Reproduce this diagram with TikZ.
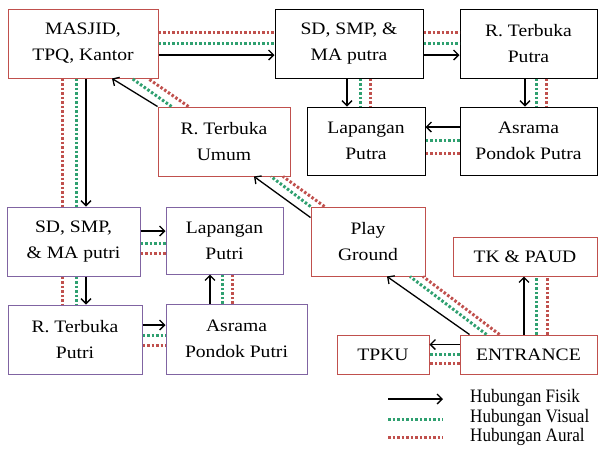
\documentclass[tikz,border=0pt]{standalone}
\usepackage{fontspec}
\setmainfont{Liberation Serif}[FakeStretch=1.12]
\newfontfamily\legendfont{Liberation Serif}[FakeStretch=0.9]
\usepackage{xcolor}
\usetikzlibrary{arrows.meta}

\definecolor{boxred}{HTML}{C0504D}
\definecolor{boxpurple}{HTML}{8064A2}
\definecolor{visualgreen}{HTML}{2FA070}
\definecolor{auralred}{HTML}{C0504D}

\begin{document}
\begin{tikzpicture}[
x=1pt, y=-1pt,
every node/.style={font=\fontsize{17.5}{26}\selectfont},
boxnode/.style={rectangle, draw=black, line width=1pt, align=center, inner sep=0pt},
redbox/.style={boxnode, draw=boxred},
purplebox/.style={boxnode, draw=boxpurple},
blackbox/.style={boxnode, draw=black},
legendtext/.style={font=\legendfont\fontsize{19}{21}\selectfont, anchor=west, inner sep=0pt},
fisik/.style={-{Straight Barb[length=5pt, width=10pt]}, line width=1.3pt, black},
visual/.style={line width=3pt, visualgreen, dash pattern=on 2.5pt off 2pt},
aural/.style={line width=3pt, auralred, dash pattern=on 2.5pt off 2pt}
]
\useasboundingbox (0,0) rectangle (603,451);

% boxes
\node[redbox, minimum width=150pt, minimum height=69pt] (masjid) at (83,43.5) {MASJID,\\TPQ, Kantor};
\node[blackbox, minimum width=148pt, minimum height=69pt] (sdputra) at (349,43.5) {SD, SMP, \&\\MA putra};
\node[blackbox, minimum width=137pt, minimum height=69pt] (rtputra) at (528.5,43.5) {R. Terbuka\\Putra};
\node[blackbox, minimum width=118pt, minimum height=68pt] (lapputra) at (366,141) {Lapangan\\Putra};
\node[blackbox, minimum width=137pt, minimum height=68pt] (asputra) at (528.5,141) {Asrama\\Pondok Putra};
\node[redbox, minimum width=132pt, minimum height=69pt] (rtumum) at (224,141.5) {R. Terbuka\\Umum};
\node[purplebox, minimum width=133pt, minimum height=69pt] (sdputri) at (73.5,241.5) {SD, SMP,\\\& MA putri};
\node[purplebox, minimum width=117pt, minimum height=67pt] (lapputri) at (224.5,240.5) {Lapangan\\Putri};
\node[purplebox, minimum width=134pt, minimum height=69pt] (rtputri) at (75,339.5) {R. Terbuka\\Putri};
\node[purplebox, minimum width=141pt, minimum height=70pt] (asputri) at (236.5,339) {Asrama\\Pondok Putri};
\node[redbox, minimum width=114pt, minimum height=69pt] (play) at (368,241.5) {Play\\Ground};
\node[redbox, minimum width=144pt, minimum height=39pt] (tkpaud) at (525,256.5) {TK \& PAUD};
\node[redbox, minimum width=92pt, minimum height=39pt] (tpku) at (383,354.5) {TPKU};
\node[redbox, minimum width=137pt, minimum height=39pt] (entrance) at (528.5,354.5) {ENTRANCE};

% MASJID - SD putra
\draw[fisik] ([yshift=-11.5pt]masjid.east) -- ([yshift=-11.5pt]masjid.east -| sdputra.west);
\draw[visual] (masjid.east) -- (masjid.east -| sdputra.west);
\draw[aural] ([yshift=11.5pt]masjid.east) -- ([yshift=11.5pt]masjid.east -| sdputra.west);

% SD putra - R. Terbuka Putra
\draw[fisik] ([yshift=-11.5pt]sdputra.east) -- ([yshift=-11.5pt]sdputra.east -| rtputra.west);
\draw[visual] (sdputra.east) -- (sdputra.east -| rtputra.west);
\draw[aural] ([yshift=11.5pt]sdputra.east) -- ([yshift=11.5pt]sdputra.east -| rtputra.west);

% SD putra - Lapangan Putra
\draw[fisik] ([xshift=-2pt]sdputra.south) -- ([xshift=-2pt]sdputra.south |- lapputra.north);
\draw[visual] ([xshift=11pt]sdputra.south) -- ([xshift=11pt]sdputra.south |- lapputra.north);
\draw[aural] ([xshift=21pt]sdputra.south) -- ([xshift=21pt]sdputra.south |- lapputra.north);

% R. Terbuka Putra - Asrama Putra
\draw[fisik] ([xshift=-3.5pt]rtputra.south) -- ([xshift=-3.5pt]asputra.north);
\draw[visual] ([xshift=7.5pt]rtputra.south) -- ([xshift=7.5pt]asputra.north);
\draw[aural] ([xshift=17.5pt]rtputra.south) -- ([xshift=17.5pt]asputra.north);

% Asrama Putra - Lapangan Putra
\draw[fisik] ([yshift=14pt]asputra.west) -- ([yshift=14pt]lapputra.east);
\draw[visual] ([yshift=1pt]asputra.west) -- ([yshift=1pt]lapputra.east);
\draw[aural] ([yshift=-12pt]asputra.west) -- ([yshift=-12pt]lapputra.east);

% MASJID - SD putri
\draw[fisik] ([xshift=3pt]masjid.south) -- ([xshift=3pt]masjid.south |- sdputri.north);
\draw[visual] ([xshift=-7pt]masjid.south) -- ([xshift=-7pt]masjid.south |- sdputri.north);
\draw[aural] ([xshift=-21pt]masjid.south) -- ([xshift=-21pt]masjid.south |- sdputri.north);

% R. Terbuka Umum - MASJID
\draw[fisik] (rtumum.north west) -- ([xshift=29pt]masjid.south);
\draw[visual] ([xshift=14pt]rtumum.north west) -- ([xshift=49pt]masjid.south);
\draw[aural] ([xshift=31pt]rtumum.north west) -- ([xshift=65pt]masjid.south);

% Play Ground - R. Terbuka Umum
\draw[fisik] ([yshift=-11pt]play.north west) -- ([xshift=30pt]rtumum.south);
\draw[visual] (play.north west) -- ([xshift=47pt]rtumum.south);
\draw[aural] ([xshift=14pt]play.north west) -- ([xshift=59pt]rtumum.south);

% ENTRANCE - Play Ground
\draw[fisik] ([xshift=10pt]entrance.north west) -- ([xshift=19pt]play.south);
\draw[visual] ([xshift=27pt]entrance.north west) -- ([xshift=42pt]play.south);
\draw[aural] ([xshift=40pt]entrance.north west) -- ([xshift=55pt]play.south);

% ENTRANCE - TK & PAUD
\draw[fisik] ([xshift=-4.5pt]entrance.north) -- ([xshift=-4.5pt]entrance.north |- tkpaud.south);
\draw[visual] ([xshift=7.5pt]entrance.north) -- ([xshift=7.5pt]entrance.north |- tkpaud.south);
\draw[aural] ([xshift=18.5pt]entrance.north) -- ([xshift=18.5pt]entrance.north |- tkpaud.south);

% ENTRANCE - TPKU
\draw[fisik] ([yshift=10pt]entrance.west) -- ([yshift=10pt]tpku.east);
\draw[visual] (entrance.west) -- (tpku.east);
\draw[aural] ([yshift=-9pt]entrance.west) -- ([yshift=-9pt]tpku.east);

% SD putri - Lapangan Putri
\draw[fisik] ([yshift=10.5pt]sdputri.east) -- ([yshift=10.5pt]sdputri.east -| lapputri.west);
\draw[visual] ([yshift=-1.5pt]sdputri.east) -- ([yshift=-1.5pt]sdputri.east -| lapputri.west);
\draw[aural] ([yshift=-11.5pt]sdputri.east) -- ([yshift=-11.5pt]sdputri.east -| lapputri.west);

% SD putri - R. Terbuka Putri
\draw[fisik] ([xshift=12.5pt]sdputri.south) -- ([xshift=12.5pt]sdputri.south |- rtputri.north);
\draw[visual] ([xshift=2.5pt]sdputri.south) -- ([xshift=2.5pt]sdputri.south |- rtputri.north);
\draw[aural] ([xshift=-11.5pt]sdputri.south) -- ([xshift=-11.5pt]sdputri.south |- rtputri.north);

% R. Terbuka Putri - Asrama Putri
\draw[fisik] ([yshift=14.5pt]rtputri.east) -- ([yshift=14.5pt]rtputri.east -| asputri.west);
\draw[visual] ([yshift=4.5pt]rtputri.east) -- ([yshift=4.5pt]rtputri.east -| asputri.west);
\draw[aural] ([yshift=-5.5pt]rtputri.east) -- ([yshift=-5.5pt]rtputri.east -| asputri.west);

% Asrama Putri - Lapangan Putri
\draw[fisik] ([xshift=-26.5pt]asputri.north) -- ([xshift=-26.5pt]asputri.north |- lapputri.south);
\draw[visual] ([xshift=-14.5pt]asputri.north) -- ([xshift=-14.5pt]asputri.north |- lapputri.south);
\draw[aural] ([xshift=-4.5pt]asputri.north) -- ([xshift=-4.5pt]asputri.north |- lapputri.south);

% legend
\coordinate (fisikA) at (388,399);
\coordinate (fisikB) at (443,399);
\coordinate (visualA) at (388,419);
\coordinate (visualB) at (443,419);
\coordinate (auralA) at (388,437);
\coordinate (auralB) at (443,437);
\draw[fisik] (fisikA) -- (fisikB);
\draw[visual] (visualA) -- (visualB);
\draw[aural] (auralA) -- (auralB);
\node[legendtext] (fisiktext) at (470,398) {Hubungan Fisik};
\node[legendtext] (visualtext) at (470,418) {Hubungan Visual};
\node[legendtext] (auraltext) at (470,437) {Hubungan Aural};

\end{tikzpicture}
\end{document}
